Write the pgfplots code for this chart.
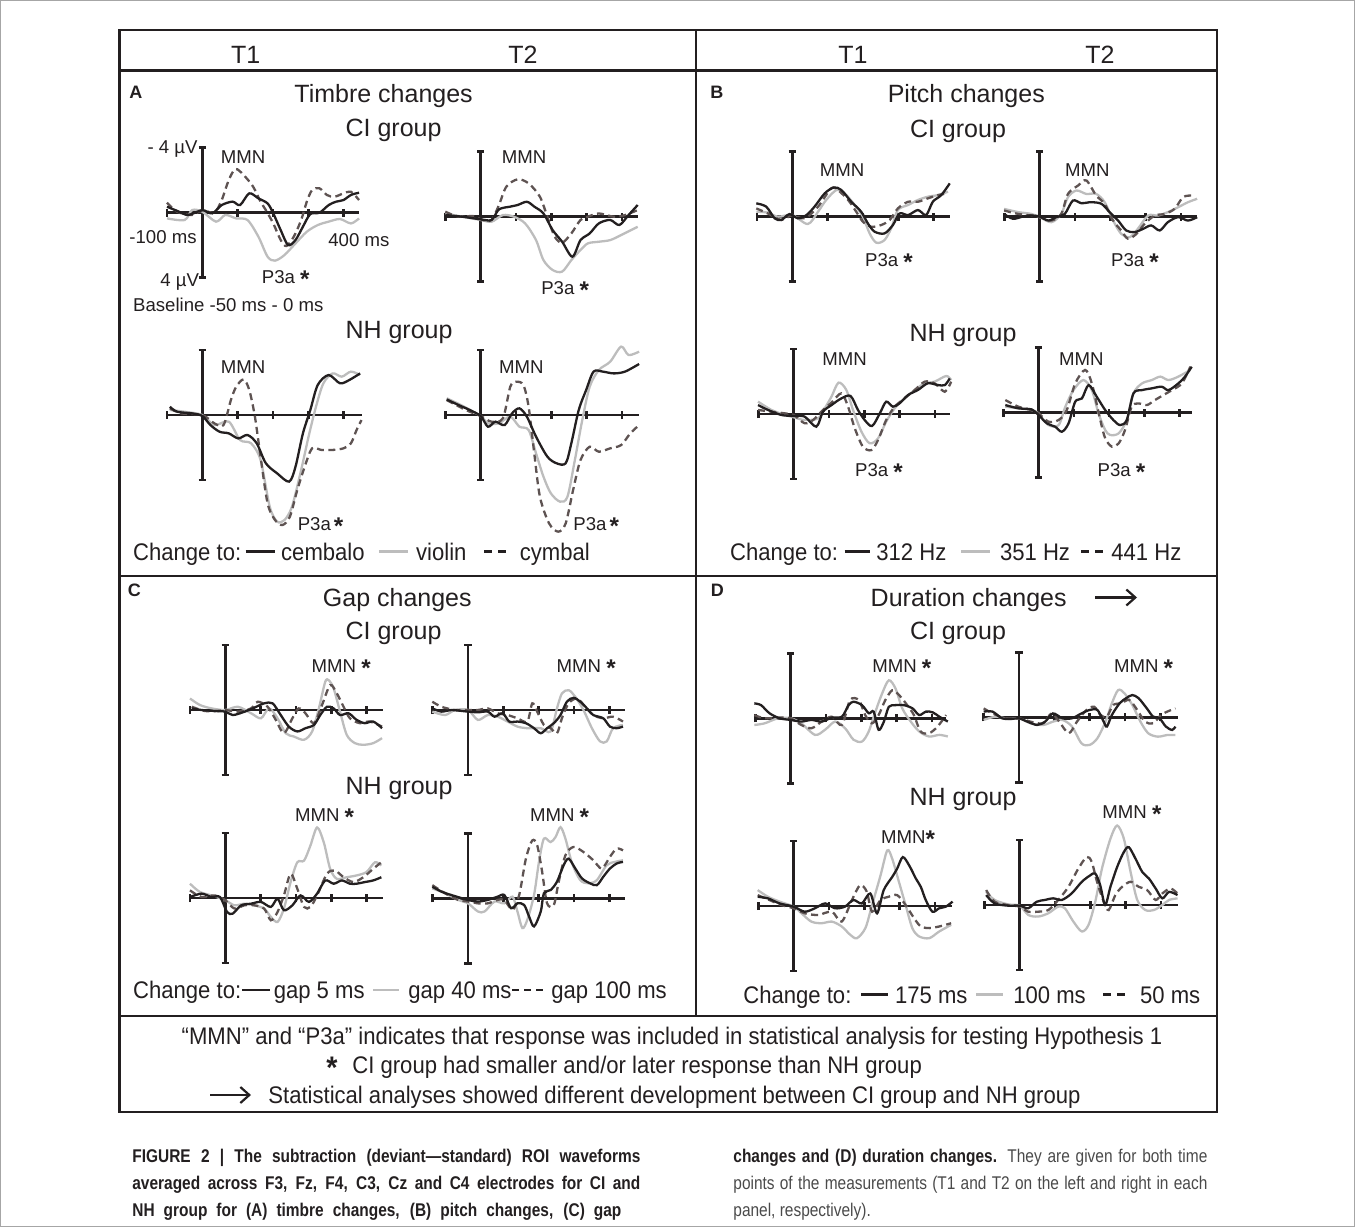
\documentclass[border=0pt]{standalone}
\usepackage{pgfplots}
\pgfplotsset{compat=1.18}
\usepackage{graphicx}
\usepackage{fontspec}
\setmainfont{Liberation Sans}
\newfontfamily\capfont{Liberation Sans}[FakeStretch=0.84]
\newfontfamily\condfont{Liberation Sans}[FakeStretch=0.92]
\usetikzlibrary{arrows.meta}
\definecolor{ink}{HTML}{231F20}
\definecolor{lgray}{HTML}{BDBDBD}
\definecolor{dgray}{HTML}{5E5352}
\definecolor{captxt}{HTML}{4A4A4A}
\newcommand{\fT}{\fontsize{12.5}{15}\selectfont}
\newcommand{\fS}{\fontsize{9.3}{11}\selectfont}
\newcommand{\fL}{\condfont\fontsize{12}{14}\selectfont}
\newcommand{\fC}{\capfont\fontsize{9.2}{11}\selectfont}
\newcommand{\st}{\raisebox{-0.22em}{\scalebox{1.3}{\bfseries *}}}
\tikzset{axl/.style={ink, line width=1.3pt},
  arr/.style={ink, line width=1.1pt, -{Straight Barb[length=4.5pt,width=8pt]}}}
\pgfplotsset{
  erp/.style={hide axis, scale only axis, width=96.2pt, height=65pt,
    xmin=-100, xmax=445, ymin=-4, ymax=4, clip=false, anchor=south west},
  erpat/.style 2 args={at={({(#1-35.3)*0.5pt},{-(#2+65)*0.5pt})}},
  cb/.style={ink, line width=1.15pt, smooth},
  cg/.style={lgray, line width=1.15pt, smooth},
  cd/.style={dgray, line width=1.15pt, smooth, dash pattern=on 3.5pt off 2.2pt}
}
\newcommand{\erpframe}[1][445]{%
  \draw[axl] (axis cs:-100,0) -- (axis cs:#1,0);
  \draw[axl] (axis cs:0,-4) -- (axis cs:0,4);
  \draw[axl] ([xshift=-1.8pt]axis cs:0,4) -- ([xshift=1.8pt]axis cs:0,4);
  \draw[axl] ([xshift=-1.8pt]axis cs:0,-4) -- ([xshift=1.8pt]axis cs:0,-4);
  \draw[axl] ([yshift=-2pt]axis cs:-100,0) -- ([yshift=2pt]axis cs:-100,0);
  \draw[axl] ([yshift=-2pt]axis cs:100,0) -- ([yshift=2pt]axis cs:100,0);
  \draw[axl] ([yshift=-2pt]axis cs:200,0) -- ([yshift=2pt]axis cs:200,0);
  \draw[axl] ([yshift=-2pt]axis cs:300,0) -- ([yshift=2pt]axis cs:300,0);
  \draw[axl] ([yshift=-2pt]axis cs:400,0) -- ([yshift=2pt]axis cs:400,0);
}
\begin{document}
\begin{tikzpicture}
\begin{scope}[x=0.5pt,y=-0.5pt, every node/.style={inner sep=0pt, text=ink}]
% outer frame and boxes
\draw[gray!70, line width=0.6pt] (0.6,0.6) rectangle (1354.4,1226.4);
\draw[ink, line width=1.3pt] (119.5,30) rectangle (1217,1112);
\draw[ink, line width=1.3pt] (119.5,70.5) -- (1217,70.5);
\draw[ink, line width=1.3pt] (696,30) -- (696,1016);
\draw[ink, line width=1.3pt] (119.5,576) -- (1217,576);
\draw[ink, line width=1.3pt] (119.5,1016) -- (1217,1016);
% header
\node[anchor=base, font=\fT] at (245.6,63) {T1};
\node[anchor=base, font=\fT] at (523,63) {T2};
\node[anchor=base, font=\fT] at (853,63) {T1};
\node[anchor=base, font=\fT] at (1100,63) {T2};
% panel letters
\node[anchor=base west, font=\fontsize{9}{11}\selectfont\bfseries] at (129,98) {A};
\node[anchor=base west, font=\fontsize{9}{11}\selectfont\bfseries] at (710,98) {B};
\node[anchor=base west, font=\fontsize{9}{11}\selectfont\bfseries] at (127.5,596) {C};
\node[anchor=base west, font=\fontsize{9}{11}\selectfont\bfseries] at (710.5,596) {D};
% titles
\node[anchor=base, font=\fT] at (383.6,102) {Timbre changes};
\node[anchor=base, font=\fT] at (393.6,136.5) {CI group};
\node[anchor=base, font=\fT] at (399,338) {NH group};
\node[anchor=base, font=\fT] at (966.3,102.5) {Pitch changes};
\node[anchor=base, font=\fT] at (958,137) {CI group};
\node[anchor=base, font=\fT] at (963,341.5) {NH group};
\node[anchor=base, font=\fT] at (397.3,606.5) {Gap changes};
\node[anchor=base, font=\fT] at (393.6,639) {CI group};
\node[anchor=base, font=\fT] at (399,794) {NH group};
\node[anchor=base, font=\fT] at (968.7,606.5) {Duration changes};
\node[anchor=base, font=\fT] at (958,639) {CI group};
\node[anchor=base, font=\fT] at (963,805) {NH group};
\draw[arr] (1095,597.5) -- (1137,597.5);
% small labels A
\node[anchor=base east, font=\fS] at (198,153) {- 4 µV};
\node[anchor=base, font=\fS] at (243,163.3) {MMN};
\node[anchor=base west, font=\fS] at (129,243.5) {-100 ms};
\node[anchor=base west, font=\fS] at (328,246.7) {400 ms};
\node[anchor=base east, font=\fS] at (199.4,286.7) {4 µV};
\node[anchor=base west, font=\fS] at (261.5,283.3) {P3a \st};
\node[anchor=base west, font=\fS] at (132.8,311.7) {Baseline -50 ms - 0 ms};
\node[anchor=base, font=\fS] at (524,163.3) {MMN};
\node[anchor=base west, font=\fS] at (540.9,294) {P3a \st};
\node[anchor=base, font=\fS] at (243,373) {MMN};
\node[anchor=base west, font=\fS] at (297.4,530.5) {P3a\,\st};
\node[anchor=base, font=\fS] at (521.3,373) {MMN};
\node[anchor=base west, font=\fS] at (573,530.5) {P3a\,\st};
% small labels B
\node[anchor=base, font=\fS] at (842,176.7) {MMN};
\node[anchor=base west, font=\fS] at (864.7,266.7) {P3a \st};
\node[anchor=base, font=\fS] at (1087.3,176.7) {MMN};
\node[anchor=base west, font=\fS] at (1110.7,266.7) {P3a \st};
\node[anchor=base, font=\fS] at (844.7,365) {MMN};
\node[anchor=base west, font=\fS] at (854.7,476.7) {P3a \st};
\node[anchor=base, font=\fS] at (1081.3,365) {MMN};
\node[anchor=base west, font=\fS] at (1097.3,476.7) {P3a \st};
% small labels C, D
\node[anchor=base west, font=\fS] at (311.3,672.3) {MMN \st};
\node[anchor=base west, font=\fS] at (556.3,672.3) {MMN \st};
\node[anchor=base west, font=\fS] at (294.7,821) {MMN \st};
\node[anchor=base west, font=\fS] at (529.7,821) {MMN \st};
\node[anchor=base west, font=\fS] at (872,672.3) {MMN \st};
\node[anchor=base west, font=\fS] at (1113.7,672.3) {MMN \st};
\node[anchor=base west, font=\fS] at (880.7,843.3) {MMN\st};
\node[anchor=base west, font=\fS] at (1102,818.3) {MMN \st};
% legends
\node[anchor=base west, font=\fL] at (132.8,560) {Change to:};
\draw[ink, line width=1.3pt] (245.6,551.5) -- (275,551.5);
\node[anchor=base west, font=\fL] at (280.8,560) {cembalo};
\draw[lgray, line width=1.3pt] (378.8,551.5) -- (408.4,551.5);
\node[anchor=base west, font=\fL] at (415.8,560) {violin};
\draw[ink, line width=1.3pt, dash pattern=on 4pt off 3pt] (484,551.5) -- (510,551.5);
\node[anchor=base west, font=\fL] at (519.4,560) {cymbal};
\node[anchor=base west, font=\fL] at (729.7,560) {Change to:};
\draw[ink, line width=1.3pt] (844.7,551.5) -- (869.7,551.5);
\node[anchor=base west, font=\fL] at (876,560) {312 Hz};
\draw[lgray, line width=1.3pt] (961,551.5) -- (990,551.5);
\node[anchor=base west, font=\fL] at (999.7,560) {351 Hz};
\draw[ink, line width=1.3pt, dash pattern=on 4pt off 3pt] (1081,551.5) -- (1103,551.5);
\node[anchor=base west, font=\fL] at (1111,560) {441 Hz};
\node[anchor=base west, font=\fL] at (132.8,998.3) {Change to:};
\draw[ink, line width=1.3pt] (242,989.8) -- (269.7,989.8);
\node[anchor=base west, font=\fL] at (273.4,998.3) {gap 5 ms};
\draw[lgray, line width=1.3pt] (373,989.8) -- (399,989.8);
\node[anchor=base west, font=\fL] at (408,998.3) {gap 40 ms};
\draw[ink, line width=1.3pt, dash pattern=on 3.5pt off 2.6pt] (512,989.8) -- (543.5,989.8);
\node[anchor=base west, font=\fL] at (551,998.3) {gap 100 ms};
\node[anchor=base west, font=\fL] at (743,1003) {Change to:};
\draw[ink, line width=1.3pt] (861.3,994.5) -- (888,994.5);
\node[anchor=base west, font=\fL] at (894.7,1003) {175 ms};
\draw[lgray, line width=1.3pt] (976.3,994.5) -- (1003,994.5);
\node[anchor=base west, font=\fL] at (1013,1003) {100 ms};
\draw[ink, line width=1.3pt, dash pattern=on 4pt off 3pt] (1103,994.5) -- (1126.3,994.5);
\node[anchor=base west, font=\fL] at (1139.7,1003) {50 ms};
% footer
\node[anchor=base, font=\fL] at (672,1044) {“MMN” and “P3a” indicates that response was included in statistical analysis for testing Hypothesis 1};
\node[anchor=base west, font=\fL] at (326,1073.5) {\st};
\node[anchor=base west, font=\fL] at (352,1073.5) {CI group had smaller and/or later response than NH group};
\draw[arr] (210,1095) -- (251,1095);
\node[anchor=base west, font=\fL] at (268,1103.5) {Statistical analyses showed different development between CI group and NH group};
% caption
\node[anchor=base west, font=\fC\bfseries] at (132,1162) {\makebox[254pt][s]{FIGURE 2 | The subtraction (deviant—standard) ROI waveforms}};
\node[anchor=base west, font=\fC\bfseries] at (132,1189) {\makebox[254pt][s]{averaged across F3, Fz, F4, C3, Cz and C4 electrodes for CI and}};
\node[anchor=base west, font=\fC\bfseries] at (132,1216) {\makebox[244.5pt][s]{NH group for (A) timbre changes, (B) pitch changes, (C) gap}};
\node[anchor=base west, font=\fC] at (733,1162) {\makebox[237pt][s]{{\bfseries changes and (D) duration changes.} {\color{captxt}They are given for both time}}};
\node[anchor=base west, font=\fC, text=captxt] at (733,1189) {\makebox[237pt][s]{points of the measurements (T1 and T2 on the left and right in each}};
\node[anchor=base west, font=\fC, text=captxt] at (733,1216) {panel, respectively).};
\end{scope}

% ================= A: timbre =================
\begin{axis}[erp, erpat={202.3}{212.7}]
\erpframe
\addplot[cg] coordinates {(-100,-0.35)(-50,-0.45)(-29,0.16)(0,0.06)(39,-0.55)(65,-0.14)(96,-0.35)(128,-0.45)(159,-1.48)(185,-2.71)(206,-2.95)(233,-2.6)(264,-1.89)(296,-1.17)(327,-0.76)(358,-0.55)(390,-0.39)(421,-0.66)(444,-0.35)};
\addplot[cd] coordinates {(-100,0.62)(-71,0.06)(-29,-0.14)(0,0.16)(34,0)(55,0.78)(75,2.01)(94,2.69)(117,2.32)(144,1.6)(165,0.68)(180,0.16)(201,-0.66)(222,-1.68)(238,-2.05)(259,-1.48)(280,-0.45)(296,0.68)(311,1.39)(332,1.5)(353,1.09)(374,0.98)(400,1.19)(421,1.29)(444,0.78)};
\addplot[cb] coordinates {(-100,0.37)(-70,0.1)(-40,-0.14)(0,0.16)(28,-0.04)(55,0.47)(86,0.68)(107,0.47)(133,1.19)(159,0.88)(185,0.57)(201,-0.04)(222,-1.07)(243,-1.99)(264,-1.68)(285,-0.86)(306,-0.08)(332,0)(358,0.47)(379,0.68)(400,0.78)(421,1.09)(444,1.23)};
\end{axis}
\begin{axis}[erp, erpat={480.6}{216.7}]
\erpframe
\addplot[cg] coordinates {(-100,0.2)(-52,0)(0,-0.2)(31,-0.31)(63,0.1)(94,0)(126,-0.41)(157,-1.44)(178,-2.67)(204,-3.28)(231,-3.38)(257,-2.67)(283,-2.05)(304,-1.64)(335,-1.54)(367,-1.44)(398,-1.13)(445,-0.62)};
\addplot[cd] coordinates {(-100,0.31)(-63,0)(-21,0.04)(5,-0.2)(31,-0.2)(52,0.72)(73,1.85)(105,2.3)(136,2.05)(168,1.23)(189,0)(210,-1.23)(231,-1.6)(257,-1.03)(283,-0.2)(304,0)(335,0.2)(377,0)(409,0.1)(445,0.41)};
\addplot[cb] coordinates {(-100,0.1)(-52,0)(0,-0.16)(31,-0.2)(52,0.45)(84,0.62)(105,0.72)(131,0.92)(152,0.62)(178,0.2)(204,-0.82)(231,-1.54)(260,-2.46)(283,-1.44)(309,-1.03)(335,-0.41)(367,-0.2)(393,-0.51)(419,0.1)(445,0.72)};
\end{axis}
\begin{axis}[erp, erpat={202.3}{415}]
\erpframe[451]
\addplot[cg] coordinates {(-92,0.31)(-50,0.2)(0,0)(34,-0.62)(75,-0.41)(107,-1.54)(138,-1.74)(165,-2.77)(191,-5.64)(212,-6.56)(233,-6.46)(254,-5.64)(280,-3.38)(301,-1.33)(322,0.51)(343,1.95)(369,2.56)(395,2.36)(421,2.67)(447,2.46)};
\addplot[cd] coordinates {(-92,0.41)(-60,0.1)(0,0)(34,-0.51)(60,-0.62)(81,0.92)(96,1.74)(117,2.19)(133,1.54)(149,-0.1)(165,-2.56)(185,-5.44)(206,-6.46)(227,-6.77)(248,-6.26)(269,-4.62)(290,-3.18)(311,-2.05)(337,-2.15)(369,-2.15)(400,-2.05)(421,-1.74)(437,-0.92)(451,-0.31)};
\addplot[cb] coordinates {(-92,0.51)(-71,0.2)(-29,0.1)(0,-0.06)(23,-0.62)(49,-1.03)(75,-1.13)(102,-1.44)(128,-1.23)(154,-1.74)(180,-2.97)(212,-3.59)(246,-4.1)(264,-3.18)(285,-1.13)(306,0.31)(327,1.85)(358,2.46)(390,1.95)(416,2.15)(447,2.56)};
\end{axis}
\begin{axis}[erp, erpat={480.6}{415}]
\erpframe[449]
\addplot[cg] coordinates {(-96,1.03)(-52,0.57)(0,-0.06)(21,-0.51)(52,-0.51)(84,-0.1)(110,-0.72)(136,-0.92)(157,-2.36)(178,-3.79)(199,-4.82)(225,-5.33)(246,-5.03)(267,-2.77)(288,-0.31)(309,1.74)(335,2.77)(367,3.28)(398,4.21)(419,3.69)(449,3.9)};
\addplot[cd] coordinates {(-96,0.92)(-42,0.31)(0,-0.06)(31,-0.41)(63,-0.2)(84,1.74)(100,2.05)(121,1.85)(136,0.51)(152,-2.36)(168,-5.03)(194,-6.67)(220,-7.18)(241,-6.67)(262,-4.62)(283,-2.77)(309,-1.95)(335,-2.26)(367,-2.05)(398,-1.85)(424,-1.13)(449,-0.62)};
\addplot[cb] coordinates {(-96,0.96)(-63,0.62)(-31,0.31)(0,-0.06)(21,-0.72)(42,-0.41)(68,-0.62)(89,0.1)(110,0.41)(131,-0.1)(157,-1.33)(189,-2.56)(215,-2.97)(241,-2.97)(257,-1.74)(278,0.31)(299,1.54)(320,2.67)(346,2.67)(377,2.56)(409,2.67)(449,3.14)};
\end{axis}

% ================= B: pitch =================
\begin{axis}[erp, erpat={792.3}{216.7}]
\erpframe[446]
\addplot[cg] coordinates {(-102,0.31)(-69,0.25)(-41,0)(0,0.1)(44,-0.45)(73,0.31)(96,1.03)(125,1.64)(148,1.44)(177,0.72)(200,0)(219,-1.03)(238,-1.6)(261,-1.44)(280,-0.72)(299,0.41)(328,0.72)(356,1.03)(384,1.23)(413,1.33)(441,1.54)};
\addplot[cd] coordinates {(-102,0.51)(-69,0.2)(-31,-0.2)(0,0.1)(35,-0.1)(73,0.62)(110,1.74)(129,1.64)(158,1.03)(181,0.31)(200,-0.31)(224,-0.62)(252,-0.51)(276,-0.2)(299,0.51)(328,0.92)(356,0.92)(384,1.13)(413,1.33)(441,1.44)};
\addplot[cb] coordinates {(-102,0.82)(-74,0.62)(-50,-0.1)(-31,-0.2)(-8,0.16)(16,-0.1)(40,0.1)(63,0.62)(92,1.44)(118,1.8)(139,1.64)(167,0.92)(195,0.31)(214,-0.41)(233,-0.92)(261,-1.03)(285,-0.51)(304,0.2)(328,0.1)(356,0.41)(379,0.1)(398,0.92)(422,1.33)(446,2.05)};
\end{axis}
\begin{axis}[erp, erpat={1039.7}{216.5}]
\erpframe[446]
\addplot[cg] coordinates {(-101,0.47)(-61,0.27)(-24,0.16)(0,-0.04)(33,-0.35)(61,0.16)(80,1.19)(104,1.6)(132,1.39)(160,1.39)(184,0.88)(208,-0.25)(231,-1.07)(255,-1.27)(278,-0.76)(307,0.06)(335,0.06)(363,0.27)(392,0.57)(420,0.88)(446,1.09)};
\addplot[cd] coordinates {(-101,0.37)(-61,0.16)(-24,0.06)(0,-0.04)(33,-0.25)(61,0.16)(80,1.39)(109,1.91)(132,2.22)(160,1.29)(184,0.78)(208,-0.25)(231,-0.86)(250,-1.37)(274,-1.07)(297,-0.45)(326,0.06)(354,0.16)(382,0.47)(406,1.19)(430,1.29)};
\addplot[cb] coordinates {(-101,0.16)(-76,-0.14)(-47,0)(-24,0.06)(0,0)(24,-0.25)(47,-0.04)(71,0.16)(94,0.98)(118,0.82)(146,0.88)(175,0.78)(198,0.27)(222,-0.25)(245,-0.86)(269,-0.96)(293,-0.76)(316,-0.55)(340,-0.86)(363,-0.35)(392,-0.04)(420,-0.25)(446,-0.04)};
\end{axis}
\begin{axis}[erp, erpat={793.7}{414}]
\erpframe[444]
\addplot[cg] coordinates {(-101,0.76)(-63,0.25)(-25,-0.06)(0,-0.2)(31,-0.37)(69,-0.27)(88,0.35)(107,1.07)(127,1.93)(149,1.48)(168,0.25)(192,-1.09)(215,-1.8)(239,-1.5)(262,-0.47)(286,0.35)(314,0.96)(343,1.48)(371,1.89)(399,1.99)(432,2.34)(446,2.09)};
\addplot[cd] coordinates {(-101,0.25)(-63,0.14)(-25,0.04)(0,-0.06)(31,-0.57)(55,-0.37)(83,0.25)(107,0.7)(135,1.27)(154,0.45)(173,-0.88)(196,-2.01)(220,-2.22)(239,-1.6)(262,-0.37)(286,0.45)(314,0.96)(343,1.48)(371,1.99)(399,1.89)(428,1.37)(446,1.99)};
\addplot[cb] coordinates {(-101,0.55)(-73,0.25)(-35,-0.06)(0,-0.12)(31,-0.16)(64,-0.78)(83,0.14)(107,0.55)(135,0.96)(161,1.11)(182,0.25)(201,-0.37)(222,-0.74)(244,0.04)(262,0.76)(281,0.45)(300,0.66)(324,1.17)(352,1.48)(380,1.89)(409,1.78)(428,1.78)(442,2.19)};
\end{axis}
\begin{axis}[erp, erpat={1038.5}{412.7}]
\erpframe[434]
\addplot[cg] coordinates {(-94,0.37)(-57,0.27)(-19,0.16)(0,-0.04)(28,-0.76)(57,-0.76)(76,0.37)(99,1.39)(127,2.01)(151,1.39)(170,-0.04)(189,-1.07)(203,-1.37)(227,-1.27)(250,-0.45)(269,1.19)(293,1.8)(321,2.01)(345,2.22)(368,2.01)(396,2.22)(430,2.63)};
\addplot[cd] coordinates {(-94,0.78)(-57,0.37)(-19,0.16)(0,-0.04)(28,-0.55)(57,-0.45)(80,0.16)(104,1.8)(132,2.63)(151,1.8)(175,-0.45)(189,-1.58)(208,-2.09)(227,-1.89)(245,-1.07)(264,0.37)(283,0.57)(307,0.47)(330,0.78)(354,1.09)(378,1.39)(406,1.8)(430,2.83)};
\addplot[cb] coordinates {(-94,0.47)(-57,0.27)(-19,0.2)(0,-0.14)(24,-0.66)(47,-0.86)(66,-1.17)(85,-0.66)(104,0.68)(123,0.88)(142,1.7)(165,0.98)(189,0.16)(212,-0.45)(231,-0.76)(250,-0.45)(269,1.19)(293,1.39)(321,1.5)(349,1.6)(368,1.39)(396,1.8)(415,2.22)(434,2.83)};
\end{axis}

% ================= C: gap =================
\begin{axis}[erp, erpat={225.3}{710}]
\erpframe[448]
\addplot[cg] coordinates {(-100,0.71)(-72,0.31)(-39,0.1)(0,0)(36,0.2)(73,-0.2)(101,-0.51)(124,0.1)(148,-0.51)(171,-1.43)(194,-1.63)(223,-1.83)(246,-1.32)(265,0.1)(283,1.73)(293,1.83)(307,1.32)(325,-0.1)(344,-1.53)(367,-2.04)(391,-2.14)(419,-2.04)(444,-1.73)};
\addplot[cd] coordinates {(-95,0.2)(-58,-0.06)(-21,-0.06)(0,0)(36,-0.1)(73,0.1)(92,0.51)(120,0.2)(143,-0.61)(166,-1.43)(190,-0.51)(208,0.1)(227,-0.2)(251,-0.81)(274,0.31)(297,1.53)(316,1.02)(335,0.2)(353,-0.51)(381,-0.81)(409,-0.71)(444,-1.02)};
\addplot[cb] coordinates {(-95,0.1)(-67,0)(-30,-0.06)(0,-0.1)(21,-0.31)(50,-0.14)(78,0.1)(110,0.41)(134,0.41)(157,-0.31)(180,-1.02)(204,-1.32)(227,-1.12)(251,-0.92)(269,-0.31)(288,0.2)(307,0.1)(325,-0.31)(349,-0.2)(372,-0.61)(395,-0.81)(419,-0.71)(444,-1.12)};
\end{axis}
\begin{axis}[erp, erpat={468}{710}]
\erpframe[444]
\addplot[cg] coordinates {(-101,-0.1)(-65,-0.31)(-37,0)(0,0)(28,-0.61)(56,-0.31)(84,-0.41)(112,-0.71)(140,-1.02)(168,-1.12)(206,-1.12)(234,-1.32)(252,0.1)(266,1.02)(285,1.22)(304,0.81)(327,0)(351,-1.12)(374,-1.93)(393,-1.93)(411,-1.12)(439,-0.92)};
\addplot[cd] coordinates {(-101,0.51)(-75,0.2)(-37,0)(0,0)(28,0)(56,0.1)(84,-0.2)(112,-0.31)(140,-0.51)(168,-0.71)(182,0.41)(196,-0.1)(215,-0.92)(234,-1.12)(252,-1.43)(266,-0.51)(285,0.41)(309,0.71)(332,0.2)(355,-0.31)(383,-0.51)(411,-0.41)(439,-0.71)};
\addplot[cb] coordinates {(-101,0.1)(-75,-0.1)(-47,0)(0,-0.1)(28,-0.14)(56,-0.1)(75,-0.41)(98,-0.2)(117,-0.71)(140,-0.71)(164,-0.81)(187,-1.12)(206,-1.43)(224,-1.12)(243,-0.81)(262,-0.31)(280,0.51)(299,0.75)(318,0.51)(337,0.1)(355,-0.31)(383,-0.51)(402,-1.02)(421,-1.12)(439,-1.02)};
\end{axis}
\begin{axis}[erp, erpat={225.3}{898}]
\erpframe[447]
\addplot[cg] coordinates {(-100,0.88)(-72,0.37)(-39,0.16)(0,-0.14)(26,-0.45)(54,-0.35)(82,-0.45)(110,-0.65)(129,-1.16)(148,-1.47)(166,-0.65)(185,0.98)(204,2.2)(223,2.3)(241,3.22)(260,4.34)(279,3.42)(297,1.8)(316,1.18)(344,1.28)(372,1.39)(400,1.6)(424,2.2)(442,2.0)};
\addplot[cd] coordinates {(-100,0.47)(-67,0.06)(-30,0.16)(0,-0.14)(26,-0.65)(54,-0.45)(82,-0.45)(110,-0.65)(129,-1.37)(148,-0.86)(166,0.16)(185,1.49)(204,0.57)(223,-0.55)(241,-0.55)(260,0.16)(288,1.49)(311,1.69)(335,1.28)(363,0.98)(391,1.28)(419,1.8)(442,2.2)};
\addplot[cb] coordinates {(-100,0.06)(-67,0.27)(-39,0.06)(-15,0.06)(5,-0.86)(21,-0.96)(45,-0.45)(73,-0.35)(101,-0.24)(129,-0.55)(148,-0.04)(166,-0.75)(190,-0.45)(213,0.16)(237,-0.24)(260,0.27)(283,1.08)(307,0.88)(330,1.08)(353,0.88)(372,0.88)(395,0.98)(419,1.08)(442,1.28)};
\end{axis}
\begin{axis}[erp, erpat={468}{898.3}]
\erpframe[444]
\addplot[cg] coordinates {(-101,0.61)(-65,0.31)(-28,-0.1)(0,-0.31)(28,-0.81)(47,-0.81)(75,-0.2)(103,-0.31)(126,0.1)(140,-0.81)(154,-1.83)(168,-1.32)(187,0.2)(201,2.24)(215,3.67)(234,3.46)(248,3.77)(262,4.38)(276,3.67)(295,2.14)(318,1.12)(341,0.92)(365,1.12)(393,2.04)(416,2.24)(439,2.34)};
\addplot[cd] coordinates {(-101,0.81)(-65,0.31)(-28,-0.1)(0,-0.2)(28,-0.31)(56,-0.31)(84,-0.1)(103,-0.1)(126,-0.71)(145,0.2)(164,2.44)(182,3.56)(196,3.26)(210,1.63)(224,-0.31)(243,-0.41)(257,1.02)(276,2.65)(299,3.16)(327,2.85)(355,2.34)(379,1.83)(402,2.55)(421,3.06)(439,2.95)};
\addplot[cb] coordinates {(-101,0.71)(-75,0.41)(-47,0.2)(0,-0.1)(28,-0.2)(56,-0.1)(84,0.1)(103,0.2)(122,-0.61)(140,-0.31)(159,-0.41)(173,-1.12)(187,-1.73)(206,-0.81)(215,0.31)(234,0.51)(252,1.02)(271,2.04)(285,2.44)(304,1.83)(323,1.22)(346,0.92)(365,0.81)(383,1.32)(402,1.83)(421,2.14)(439,2.24)};
\end{axis}

% ================= D: duration =================
\begin{axis}[erp, erpat={790.7}{718.3}]
\erpframe[441]
\addplot[cg] coordinates {(-103,-0.41)(-74,-0.31)(-36,0)(0,0)(30,-0.31)(69,-1.02)(97,-0.71)(126,-0.2)(154,-0.61)(178,-1.32)(202,-1.43)(221,-0.81)(240,0.41)(259,1.53)(278,2.34)(297,1.83)(316,0.61)(340,-0.2)(364,-0.81)(392,-1.12)(421,-1.02)(445,-1.12)};
\addplot[cd] coordinates {(-103,0.2)(-74,0)(-36,0.04)(0,0)(30,-0.41)(59,-0.61)(88,-0.2)(116,0.1)(145,-0.41)(168,1.12)(193,1.12)(211,0.2)(230,-0.31)(249,0.2)(268,1.12)(288,1.73)(307,1.43)(330,0.81)(349,0.2)(368,-0.81)(392,-0.92)(416,-0.51)(440,0.2)};
\addplot[cb] coordinates {(-103,0.92)(-84,0.81)(-60,0.31)(-31,0)(0,-0.1)(30,-0.2)(59,-0.1)(88,-0.2)(116,0.04)(145,0.1)(164,0.81)(178,1.02)(202,0.81)(221,0.31)(235,0.41)(249,-0.71)(264,-0.2)(278,0.71)(297,0.81)(321,0.81)(345,0.61)(364,0.2)(383,0.41)(402,0.37)(421,0.1)(445,-0.2)};
\end{axis}
\begin{axis}[erp, erpat={1019}{717.3}]
\erpframe[450]
\addplot[cg] coordinates {(-100,-0.16)(-66,0.04)(-30,-0.1)(0,-0.06)(33,-0.37)(69,-0.47)(96,-0.27)(123,-0.16)(150,-0.57)(177,-1.6)(200,-1.7)(222,-1.29)(245,-0.27)(263,0.86)(281,1.68)(299,1.47)(321,0.76)(344,-0.27)(366,-0.98)(393,-1.19)(420,-1.09)(443,-1.09)};
\addplot[cd] coordinates {(-100,0.55)(-75,0.24)(-39,-0.06)(0,-0.06)(33,-0.27)(69,-0.37)(92,0.24)(114,-0.27)(141,-0.98)(164,-0.27)(191,0.45)(213,0.65)(231,0.14)(249,0.04)(267,0.76)(290,0.86)(312,1.07)(335,0.45)(357,-0.27)(380,-0.37)(402,0.14)(420,0.35)(443,0.55)};
\addplot[cb] coordinates {(-100,0.35)(-75,0.35)(-48,-0.06)(-21,-0.1)(0,-0.06)(24,-0.27)(51,-0.47)(74,-0.27)(96,0.24)(123,-0.06)(150,-0.06)(177,0.24)(200,0.45)(222,0.45)(240,-0.27)(249,-0.57)(263,0.14)(285,0.86)(303,1.17)(321,1.37)(339,1.17)(362,0.55)(380,0.04)(398,-0.06)(416,-0.57)(434,-0.78)(443,-0.57)};
\end{axis}
\begin{axis}[erp, erpat={793.7}{906}]
\erpframe[447]
\addplot[cg] coordinates {(-102,0.98)(-73,0.57)(-40,0.27)(0,-0.04)(22,-0.45)(50,-0.96)(79,-1.06)(108,-0.96)(136,-1.26)(160,-1.77)(179,-1.98)(203,-1.36)(222,0.06)(246,1.89)(265,3.42)(279,2.91)(298,1.49)(317,0.06)(336,-1.36)(355,-1.87)(384,-1.98)(412,-1.57)(446,-1.16)};
\addplot[cd] coordinates {(-102,0.67)(-69,0.37)(-35,0.06)(0,-0.14)(31,-0.45)(69,-0.55)(108,-0.35)(136,-0.96)(165,0.37)(188,1.28)(207,0.88)(222,-0.35)(246,0.37)(269,0.57)(293,0.67)(317,0.06)(341,-0.75)(360,-1.26)(384,-1.36)(412,-1.26)(446,-1.06)};
\addplot[cb] coordinates {(-102,0.57)(-73,0.47)(-40,0.16)(0,-0.04)(31,-0.35)(60,-0.14)(89,0.16)(117,-0.14)(145,-0.04)(169,0.37)(193,0.16)(217,0.77)(236,-0.45)(255,0.98)(279,1.79)(293,2.3)(309,3.01)(327,2.5)(346,1.69)(360,1.18)(374,0.37)(393,-0.35)(412,-0.14)(431,-0.04)(450,0.27)};
\end{axis}
\begin{axis}[erp, erpat={1019.7}{905}]
\erpframe[448]
\addplot[cg] coordinates {(-95,0.81)(-71,0.31)(-33,0.04)(0,-0.04)(24,-0.61)(52,-0.71)(81,-0.51)(109,-0.1)(128,-0.2)(152,-1.02)(176,-1.63)(195,-1.22)(214,0.2)(233,2.24)(257,4.08)(276,4.89)(295,4.08)(314,2.04)(333,0.31)(356,-0.31)(380,-0.31)(404,0)(423,0.31)(447,0.41)};
\addplot[cd] coordinates {(-95,0.92)(-71,0.2)(-33,0)(0,-0.1)(24,-0.41)(52,-0.41)(81,-0.31)(109,0.31)(138,1.12)(166,2.24)(190,2.96)(204,2.65)(219,1.43)(238,0.2)(252,-0.31)(271,0.61)(290,1.12)(314,1.43)(337,1.12)(361,0.92)(385,0.31)(404,0.71)(428,1.02)(451,0.61)};
\addplot[cb] coordinates {(-95,0.61)(-71,0.1)(-33,-0.04)(0,-0.04)(24,-0.2)(48,0.2)(71,0.31)(95,0.41)(119,0.31)(147,0.71)(176,1.43)(200,1.83)(214,1.94)(228,1.22)(242,0)(257,1.12)(276,2.34)(295,3.26)(309,3.56)(328,2.85)(347,2.04)(366,1.63)(385,1.02)(404,0.41)(423,0.81)(447,0.61)};
\end{axis}
\end{tikzpicture}
\end{document}
